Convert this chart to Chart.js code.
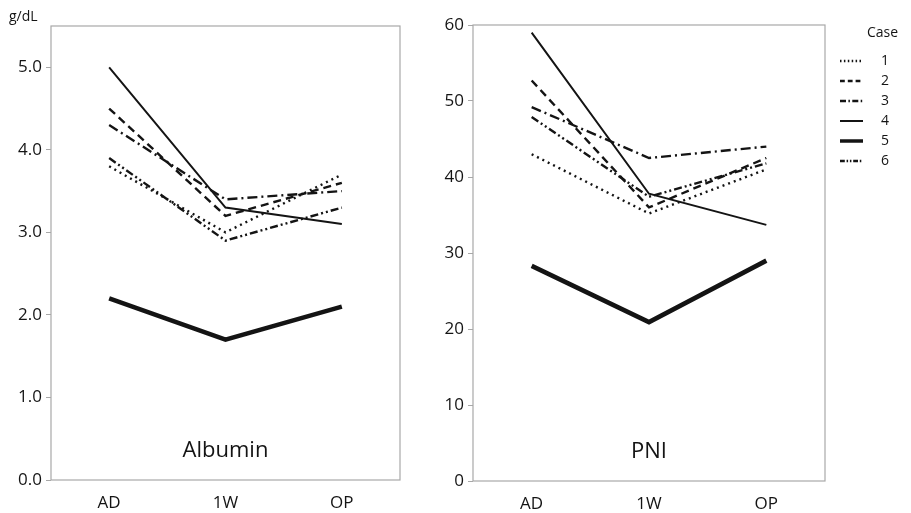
<!DOCTYPE html>
<html>
<head>
<meta charset="utf-8">
<script src="https://cdn.jsdelivr.net/npm/chart.js@4/dist/chart.umd.min.js"></script>
<style>
  body { margin: 0; background: #fff; }
  #wrap { position: relative; width: 911px; height: 513px; }
  canvas { position: absolute; top: 0; }
  #albCanvas { left: 0; }
  #pniCanvas { left: 430px; }
</style>
</head>
<body>
<div id="wrap">
  <canvas id="albCanvas" width="430" height="513"></canvas>
  <canvas id="pniCanvas" width="481" height="513"></canvas>
</div>
<script>
const timepoints = ['AD', '1W', 'OP'];
const caseNames = ['1', '2', '3', '4', '5', '6'];

// albumin, g/dL
const albumin1 = [3.8, 3.0, 3.7];
const albumin2 = [4.5, 3.2, 3.6];
const albumin3 = [4.3, 3.4, 3.5];
const albumin4 = [5.0, 3.3, 3.1];
const albumin5 = [2.2, 1.7, 2.1];
const albumin6 = [3.9, 2.9, 3.3];

// prognostic nutritional index
const pni1 = [43, 35.2, 41];
const pni2 = [52.7, 36, 42.5];
const pni3 = [49.2, 42.5, 44];
const pni4 = [59, 37.8, 33.7];
const pni5 = [28.3, 20.9, 29];
const pni6 = [47.9, 37.4, 41.8];

const albTicks = ['0.0', '1.0', '2.0', '3.0', '4.0', '5.0'];
const pniTicks = ['0', '10', '20', '30', '40', '50', '60'];

const caseStyles = [
  { borderWidth: 2.4, borderDash: [2, 4] },
  { borderWidth: 2.4, borderDash: [8, 5] },
  { borderWidth: 2.4, borderDash: [10, 4, 2, 4] },
  { borderWidth: 2, borderDash: [] },
  { borderWidth: 4.6, borderDash: [] },
  { borderWidth: 2.4, borderDash: [8, 3, 2, 3, 2, 3] },
];

const FONT = '"Open Sans", "Noto Sans", sans-serif';
const INK = '#141414';
const AXIS = '#a8a8a8';

function makeSets(series) {
  return series.map((data, i) => ({
    label: caseNames[i],
    data: data,
    borderColor: INK,
    backgroundColor: INK,
    borderWidth: caseStyles[i].borderWidth,
    borderDash: caseStyles[i].borderDash,
    pointRadius: 0,
    tension: 0,
    fill: false,
  }));
}

// box around the plot area + panel name
const boxPlugin = {
  id: 'box',
  afterDraw(chart, args, opts) {
    const { ctx, chartArea: a } = chart;
    ctx.save();
    ctx.strokeStyle = AXIS;
    ctx.lineWidth = 1.2;
    ctx.setLineDash([]);
    ctx.strokeRect(a.left, a.top, a.right - a.left, a.bottom - a.top);
    ctx.fillStyle = INK;
    ctx.font = '22px ' + FONT;
    ctx.textAlign = 'center';
    ctx.textBaseline = 'middle';
    ctx.fillText(opts.name, chart.scales.x.getPixelForValue(1), a.bottom - 29);
    if (opts.unit) {
      ctx.font = '14px ' + FONT;
      ctx.textAlign = 'left';
      ctx.fillText(opts.unit, 9, 17);
    }
    ctx.restore();
  }
};

// "Case" key to the right of the PNI panel
const keyPlugin = {
  id: 'caseKey',
  afterDraw(chart) {
    const { ctx } = chart;
    const x0 = 410, x1 = 433;
    ctx.save();
    ctx.fillStyle = INK;
    ctx.strokeStyle = INK;
    ctx.font = '14px ' + FONT;
    ctx.textBaseline = 'middle';
    ctx.fillText('Case', 437, 33);
    chart.data.datasets.forEach((ds, i) => {
      const y = 61 + i * 20;
      ctx.lineWidth = Math.min(ds.borderWidth, 3.5);
      ctx.setLineDash(ds.borderDash.map(d => Math.max(1.5, d * 0.6)));
      ctx.beginPath();
      ctx.moveTo(x0, y);
      ctx.lineTo(x1, y);
      ctx.stroke();
      ctx.fillText(ds.label, 451, y);
    });
    ctx.restore();
  }
};

function panelOptions(yMax, step, tickLabels, yWidth, xHeight, pad, name, unit) {
  return {
    responsive: false,
    animation: false,
    events: [],
    layout: { padding: pad },
    plugins: {
      legend: { display: false },
      tooltip: { enabled: false },
      box: { name: name, unit: unit },
    },
    scales: {
      x: {
        type: 'category',
        offset: true,
        grid: { display: false },
        border: { display: false },
        ticks: { color: INK, font: { family: FONT, size: 17 }, padding: 5 },
        afterFit(s) { s.height = xHeight; },
      },
      y: {
        min: 0,
        max: yMax,
        grid: { drawOnChartArea: false, color: AXIS, tickLength: 5, tickWidth: 1 },
        border: { display: false },
        ticks: {
          stepSize: step,
          color: INK,
          font: { family: FONT, size: 17 },
          padding: 4,
          callback(v) {
            const k = Math.round(v / step);
            return tickLabels[k];
          },
        },
        afterFit(s) { s.width = yWidth; },
      },
    },
  };
}

new Chart(document.getElementById('albCanvas'), {
  type: 'line',
  data: {
    labels: timepoints,
    datasets: makeSets([albumin1, albumin2, albumin3, albumin4, albumin5, albumin6]),
  },
  options: panelOptions(5.5, 1, albTicks, 51, 33, { left: 0, top: 26, right: 30, bottom: 0 }, 'Albumin', 'g/dL'),
  plugins: [boxPlugin],
});

new Chart(document.getElementById('pniCanvas'), {
  type: 'line',
  data: {
    labels: timepoints,
    datasets: makeSets([pni1, pni2, pni3, pni4, pni5, pni6]),
  },
  options: panelOptions(60, 10, pniTicks, 43, 32, { left: 0, top: 25, right: 86, bottom: 0 }, 'PNI', null),
  plugins: [boxPlugin, keyPlugin],
});
</script>
</body>
</html>
